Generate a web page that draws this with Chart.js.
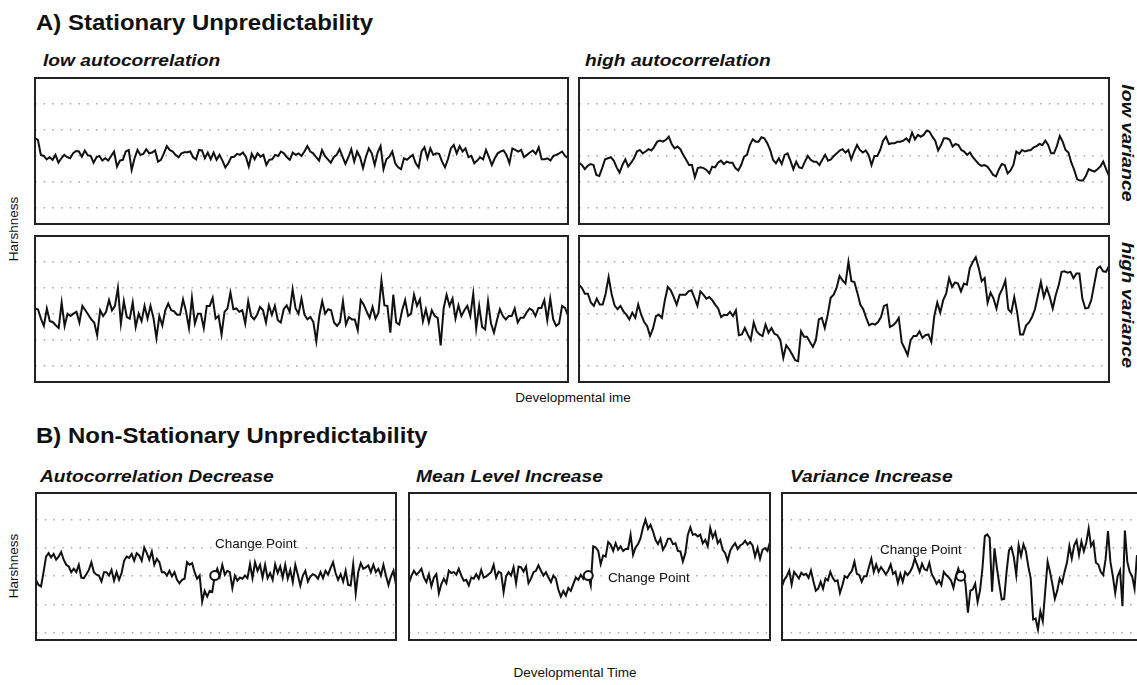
<!DOCTYPE html>
<html lang="en">
<head>
<meta charset="UTF-8">
<title>Stationary and Non-Stationary Unpredictability</title>
<style>
  html, body { margin: 0; padding: 0; background: #fff; overflow: hidden; }
  #fig { position: relative; width: 1137px; height: 685px; overflow: hidden;
         font-family: "Liberation Sans", Arial, Helvetica, sans-serif; color: #111; }
  .t { position: absolute; white-space: nowrap; line-height: 1; transform-origin: 0 0; }
  .ttl { font-size: 22px; font-weight: bold; transform: scaleX(1.09); }
  .sub { font-size: 17px; font-weight: bold; font-style: italic; transform: scaleX(1.13); }
  .side { font-size: 17px; font-weight: bold; font-style: italic; transform-origin: 50% 50%;
          transform: translate(-50%, -50%) rotate(90deg) scaleX(1.15); }
  .ylab { font-size: 13.5px; transform-origin: 50% 50%; transform: translate(-50%, -50%) rotate(-90deg); }
  .xlab { font-size: 13.5px; transform: translateX(-50%); }
  .cpt { font-size: 13.5px; }
  canvas { position: absolute; }
</style>
</head>
<body>
<div id="fig">
  <div class="t ttl" style="left:36px; top:12px">A) Stationary Unpredictability</div>
  <div class="t sub" style="left:43px; top:52px">low autocorrelation</div>
  <div class="t sub" style="left:585px; top:52px">high autocorrelation</div>
  <div class="t side" style="left:1127px; top:143px">low variance</div>
  <div class="t side" style="left:1127px; top:305px">high variance</div>
  <div class="t ylab" style="left:14px; top:229px">Harshness</div>
  <div class="t xlab" style="left:573px; top:391px">Developmental ime</div>

  <div class="t ttl" style="left:36px; top:425px">B) Non-Stationary Unpredictability</div>
  <div class="t sub" style="left:40px; top:468px">Autocorrelation Decrease</div>
  <div class="t sub" style="left:416px; top:468px">Mean Level Increase</div>
  <div class="t sub" style="left:790px; top:468px">Variance Increase</div>
  <div class="t ylab" style="left:14px; top:566px">Harshness</div>
  <div class="t xlab" style="left:575px; top:666px">Developmental Time</div>

  <canvas id="a1" width="537" height="150" style="left:33px; top:76px"></canvas>
  <canvas id="a2" width="534" height="150" style="left:577px; top:76px"></canvas>
  <canvas id="a3" width="537" height="150" style="left:33px; top:234px"></canvas>
  <canvas id="a4" width="534" height="150" style="left:577px; top:234px"></canvas>
  <canvas id="b1" width="364" height="151" style="left:34px; top:491px"></canvas>
  <canvas id="b2" width="365" height="151" style="left:407px; top:491px"></canvas>
  <canvas id="b3" width="365" height="151" style="left:780px; top:491px"></canvas>

  <div class="t cpt" style="left:215px; top:537px">Change Point</div>
  <div class="t cpt" style="left:608px; top:571px">Change Point</div>
  <div class="t cpt" style="left:880px; top:543px">Change Point</div>
</div>

<script src="https://cdn.jsdelivr.net/npm/chart.js"></script>
<script>
  // dotted reference lines (same in every panel)
  const gridVals = [-2, -1, 0, 1, 2];

  // A) stationary series
  const lowAutoLowVar = [
    0.68, 0.62, 0.04, 0, -0.13, -0.05, -0.15, 0.04, -0.26, -0.09,
    0.04, -0.05, -0.09, 0.10, 0.19, 0.17, -0.03, 0.21, 0.03, 0,
    -0.26, -0.05, 0, -0.18, -0.09, -0.18, 0, 0.17, -0.41, -0.18,
    -0.15, 0.17, 0.23, -0.54, -0.09, 0.23, 0.04, 0.08, 0.26, 0.10,
    0.13, 0.21, -0.22, -0.15, 0.10, 0.38, 0.23, 0.17, 0.04, -0.05, 0.10,
    0.14, 0.14, 0.17, -0.05, -0.13, 0.23, 0.21, -0.09, 0.13, -0.13,
    0.13, -0.15, 0.04, -0.18, -0.44, -0.28, -0.05, -0.03, 0.08, 0.04,
    0.13, -0.03, -0.41, 0.08, -0.13, 0.10, -0.03, 0.04, -0.35, -0.15,
    -0.13, 0.04, 0, 0.17, 0.10, -0.05, -0.15, 0.13, 0.04, 0.10,
    0, 0.17,
    0.38, 0.17, 0.10, -0.05, -0.18, 0.23, 0, -0.13, -0.26, -0.05,
    0.04, 0.26, -0.03, -0.31, -0.05, 0.26, -0.22, 0.17, -0.05, -0.47,
    -0.03, 0.29, 0.10, -0.35, 0.13, 0.38, -0.51, -0.13, -0.03, 0.17,
    -0.28, -0.44, -0.51, -0.09, -0.15, -0.05, 0.04, -0.28, -0.44, 0.17,
    0.33, -0.09, 0.29, 0.04, 0.10, 0.08, -0.22, -0.44, -0.13, 0.29,
    0.42, 0.10, 0.38, 0.17, 0.29, -0.05, 0, -0.28, -0.18, -0.05,
    -0.13, 0.23, -0.05, -0.35, -0.09, 0.10, 0.17, 0.21, 0.04, -0.28,
    0.29, 0.23, 0.17, 0.23, -0.05, 0.04, 0.13, 0.21, 0.08, 0.33,
    -0.13, -0.13, -0.09, -0.18, 0, 0.04, 0.10, 0.17, 0, -0.09
  ];
  const highAutoLowVar = [
    -0.26, -0.35, -0.51, -0.38, -0.31, -0.35, -0.73, -0.77, -0.47, -0.13,
    -0.09, -0.05, -0.18, -0.44, -0.64, -0.35, -0.13, -0.41, -0.26, -0.09,
    0.17, 0.23, 0.10, 0.17, 0.26, 0.21, 0.36, 0.55, 0.59, 0.55,
    0.62, 0.74, 0.46, 0.29, 0.36, 0.26, 0.04, -0.15, -0.35, -0.35,
    -0.82, -0.47, -0.44, -0.47, -0.54, -0.67, -0.41, -0.44, -0.26, -0.18,
    -0.31, -0.22, -0.26, -0.26, -0.47, -0.56, -0.35, -0.03, 0.04, 0.42,
    0.64, 0.55, 0.55, 0.72, 0.68, 0.49, 0.23, -0.15, -0.28, -0.09,
    -0.31, 0.04, 0.10, -0.18, -0.51, -0.22, -0.44, -0.47, -0.22, 0,
    -0.15, -0.22, -0.22, -0.35, -0.15, 0.04, -0.18, -0.13, 0,
    0.10, 0.21, 0.26, 0.13, 0.23, -0.13, 0.17, 0.42, 0.23, 0.13,
    0.21, 0.04, -0.35, 0, 0, 0.23, 0.59, 0.74, 0.46, 0.49,
    0.49, 0.55, 0.55, 0.59, 0.68, 0.55, 0.90, 0.64, 0.81, 0.74,
    0.81, 0.97, 0.94, 0.74, 0.59, 0.21, 0.42, 0.68, 0.68, 0.62,
    0.36, 0.46, 0.42, 0.23, 0.17, 0.04, 0.13, -0.05, -0.18, -0.31,
    -0.38, -0.35, -0.41, -0.56, -0.73, -0.79, -0.51, -0.31, -0.35, -0.67,
    -0.56, -0.35, 0.17, 0.08, 0.23, 0.17, 0.21, 0.23, 0.33, 0.38,
    0.46, 0.42, 0.59, 0.42, 0.10, 0.10, 0.38, 0.77, 0.55, 0.23,
    0.13, -0.26, -0.54, -0.90, -0.95, -0.95, -0.77, -0.51, -0.56, -0.60,
    -0.51, -0.41, -0.22, -0.51, -0.77
  ];
  const lowAutoHighVar = [
    0.21, 0.18, -0.18, -0.46, 0.21, -0.28, -0.31, -0.44, -0.54, 0.44,
    -0.46, 0.01, -0.08, 0.01, 0.08, -0.33, 0.31, 0.14, -0.03, -0.21,
    -0.33, -0.82, 0.14, -0.08, 0.08, 0.53, 0.14, 0.31, 1.00, -0.37,
    0.49, -0.12, -0.18, 0.44, -0.50, 0.01, -0.28, 0.31, -0.18, 0.31,
    -0.15, -0.92, -0.08, -0.44, 0.14, 0.40, 0.14, 0.10, -0.03, -0.03,
    0.56, 0.10, -0.54, 0.62, -0.37, 0.01, 0.01, -0.54, 0.31, 0.31,
    0.62, -0.18, -0.08, -0.79, 0.08, 0.21, 0.82, 0.18, 0.21, 0.08,
    0.14, -0.37, 0.49, -0.08, -0.21, -0.03, 0.27, 0.14, -0.33, 0.33,
    -0.03, 0.31, -0.24, -0.33, 0.18, 0.33, 0.08, 0.95, 0.21, 0.01,
    0.59, -0.03,
    -0.21, -0.12, -0.31, -1.05, -0.08, 0.49, 0.01, 0.18, 0.14, -0.33,
    -0.46, -0.31, 0.49, -0.41, -0.12, -0.21, -0.21, -0.63, 0.53, 0.36,
    0.10, -0.15, 0.27, -0.18, 0.05, 1.29, 0.33, 0.31, -0.72, 0.74,
    -0.33, -0.41, 0.14, 0.53, -0.08, 0.01, 0.74, 0.31, 0.56, -0.28,
    0.18, -0.33, 0.14, -0.08, -0.15, -1.21, 0.21, 0.74, 0.31, 0.59,
    -0.18, 0.33, -0.08, 0.14, 0.31, -0.08, 0.78, -0.56, 0.31, -0.50,
    -0.59, 0.49, -0.37, -0.72, -0.24, 0.18, -0.08, -0.21, -0.08, -0.08,
    0.21, -0.33, -0.15, -0.15, 0.05, 0.21, 0.14, -0.08, 0.23, 0.23,
    0.53, -0.24, 0.59, -0.21, -0.46, -0.37, 0.31, 0.23, -0.05
  ];
  const highAutoHighVar = [
    1.13, 1.00, 0.78, 0.78, 0.44, 0.31, 0.59, 0.36, 0.36, 0.78,
    1.42, 0.78, 0.33, 0.18, 0.31, 0.10, -0.03, -0.21, 0.05, -0.15,
    0.36, -0.03, -0.31, -0.46, -0.85, -0.56, -0.08, -0.03, -0.15, 0.53,
    1.04, 0.91, 0.65, 0.36, 0.74, 0.74, 0.74, 0.87, 0.91, 0.62,
    0.31, 0.87, 0.74, 0.59, 0.65, 0.53, 0.36, 0.21, -0.12, -0.03,
    -0.05, 0.08, -0.08, 0.14, -0.82, -0.79, -0.54, -0.79, -1.01, -0.33,
    -0.67, -0.79, -0.85, -0.41, -0.72, -0.54, -0.76, -0.82, -1.01, -1.69,
    -1.21, -1.36, -1.56, -1.78, -1.82, -0.67, -0.88, -0.88, -1.08, -1.27,
    -1.01, -0.21, -0.15, -0.54, -0.03, 0.62, 0.74, 1.00, 1.46, 1.29,
    1.17, 2.00, 1.26, 1.23, 0.82, 0.36, 0.18, -0.15, -0.44, -0.37,
    -0.41, -0.31, -0.12, 0.31, 0.36, -0.50, -0.44, -0.33, -0.15, -1.10,
    -1.33, -1.59, -1.01, -0.85, -0.85, -0.67, -0.92, -0.82, -0.79, -1.08,
    -0.08, 0.44, 0.05, 0.53, 0.78, 1.38, 1.04, 1.21, 1.17, 0.87,
    1.17, 1.13, 1.77, 2.00, 2.18, 1.77, 1.26, 1.38, 0.44, 0.82,
    0.59, 0.21, 0.74, 0.97, 1.29, 0.18, 0.05, 0.65, 0.05, -0.79,
    -0.79, -0.44, -0.33, -0.12, 0.18, 0.72, 1.23, 0.65, 1.00, 0.65,
    0.21, 0.72, 1.10, 1.62, 1.64, 1.59, 1.62, 1.38, 1.56, 1.56,
    0.59, 0.21, 0.23, 0.53, 1.13, 1.74, 1.83, 1.64, 1.62, 1.85
  ];

  // B) non-stationary series
  const acDecrease = [
    -0.13, -0.31, -0.36, 0.14, 0.69, 0.81, 0.66, 0.78, 0.58, 0.69,
    0.85, 0.58, 0.40, 0.34, 0.14, 0.26, 0.14, 0.40, -0.05, -0.07,
    0.07, 0.22, 0.49, 0.14, 0.05, 0.02, -0.19, 0.14, 0.14, 0.02,
    0.22, -0.16, 0.14, -0.13, 0.11, 0.54, 0.69, 0.64, 0.78, 0.54,
    0.81, 0.73, 0.54, 1.01, 0.81, 0.58, 0.87, 0.40, 0.61, 0.49,
    0.14, 0.14, 0.02, 0.19, -0.01, 0.14, -0.13, -0.25, -0.13, -0.09,
    0.49, 0.40, 0.46, 0.14, -0.09, 0.02, -0.89, -0.52, -0.72, -0.52,
    -0.56, 0.02, 0.26, -0.01, 0.40, 0.05, 0.19, 0.14, -0.42, 0.02,
    -0.16, -0.05, -0.09, 0.02, -0.07, 0.42, -0.07, 0.49, 0.19, 0.40,
    -0.05, 0.40, -0.07, 0.11, -0.13, 0.42, 0.11, 0.34, -0.05, 0.40,
    -0.09, 0.22, -0.21, 0.40, 0.05, -0.33, 0.02, 0.19, -0.19, -0.01,
    0.07, 0.02, -0.09, 0.14, -0.07, 0.19, 0.05, 0.28, 0.49, 0.11,
    -0.13, 0.07, -0.19, 0.19, -0.31, -0.33, 0.42, -0.60, 0.14, 0.46,
    0.26, 0.31, 0.38, 0.14, 0.40, 0.14, 0.26, 0.02, 0.40, 0.02,
    -0.31, -0.01, 0.19, -0.31
  ];
  const meanIncrease = [
    -0.25, 0.02, 0.19, 0.05, 0.14, 0.26, -0.05, -0.21, 0.07, -0.36,
    -0.05, 0.07, -0.60, -0.28, -0.09, -0.25, 0.19, 0.11, 0.14, 0.05,
    0.26, 0.02, -0.16, -0.13, -0.33, -0.05, -0.09, 0.07, -0.09, 0.22,
    -0.05, -0.01, 0.07, 0.14, 0.40, -0.05, 0.16, 0.11, -0.56, -0.01,
    0.14, 0.02, 0.31, -0.25, 0.34, 0.31, 0.16, 0.34, -0.25, -0.09,
    0.14, 0.19, 0.38, 0.19, 0.02, 0.14, -0.05, -0.21, 0.02, -0.09,
    -0.48, -0.72, -0.52, -0.68, -0.42, -0.52, -0.28, -0.05, -0.13, 0.05,
    -0.09, 0.07, 0.02, -0.33, 1.05, 1.01, 0.89, 0.42, 0.73, 0.69,
    1.20, 1.11, 0.89, 1.16, 0.93, 1.05, 0.89, 0.96, 0.96, 1.46,
    0.75, 1.01, 1.13, 1.34, 1.72, 1.99, 1.67, 1.81, 1.58, 1.28,
    1.13, 1.32, 0.93, 1.08, 1.32, 1.32, 1.13, 1.16, 0.89, 0.87,
    0.52, 0.81, 1.46, 1.72, 1.46, 1.48, 1.40, 1.46, 1.16, 1.28,
    1.05, 1.69, 1.36, 1.55, 1.16, 1.28, 0.93, 0.81, 0.54, 0.89,
    1.05, 1.16, 0.96, 1.08, 1.13, 1.25, 1.11, 1.20, 1.08, 0.69,
    0.99, 0.61, 0.93, 0.99, 0.89, 1.20
  ];
  const varIncrease = [
    -0.35, -0.12, 0, 0.20, -0.29, 0.15, 0.04, -0.08, 0.12, 0.04,
    0.08, -0.06, 0.20, -0.18, -0.51, -0.44, -0.20, -0.44, -0.08, -0.15,
    0.15, -0.06, -0.18, -0.15, -0.59, -0.32, 0, -0.06, 0.08, 0.20,
    0.51, 0.08, 0.04, -0.20, 0, 0, 0.32, 0.62, 0.15, 0.41,
    0.15, 0.32, 0.20, 0.06, 0.20, 0.41, 0.08, 0.15, -0.24, 0.08,
    -0.20, 0.15, 0.04, 0.15, 0.32, 0.62, 0.39, 0.15, 0.44, 0.24,
    0.20, 0.47, 0.08, -0.08, -0.27, -0.15, -0.32, 0.15, 0.04, -0.04,
    -0.15, -0.41, 0, 0.27, 0, 0.15, -0.29, -1.29, -0.51, -0.47,
    -0.27, -0.91, -0.51, 0.27, 1.41, 1.47, 1.35, -0.55, 0.98, 0.29,
    -0.29, -0.82, -0.80, 0.15, 0.91, 1.02, 0.67, 0.04, 1.09, 0.71,
    1.12, 0.88, 0.35, -0.08, -1.53, -1.49, -1.88, -1.24, -1.59, -0.53,
    0.51, 0.15, -0.29, -0.80, -0.51, -0.08, -0.24, 0.15, 0.47, 1.06,
    0.62, 1.09, 1.26, 0.74, 1.22, 0.88, 1.18, 1.68, 1.06, 1.21,
    0.47, 0.41, 0.15, 0.04, 0.59, 1.59, 0.51, 0, -0.59, 0,
    0.20, -1.06, 1.61, 0.51, 0.15, 0, -0.44, 0.74
  ];

  // index of the change point in each B series
  const cpAc = 71, cpMean = 72, cpVar = 74;

  const frame = {
    id: 'frame',
    afterDraw(chart) {
      const { ctx, chartArea: a } = chart;
      ctx.save();
      ctx.strokeStyle = '#222';
      ctx.lineWidth = 2;
      ctx.strokeRect(a.left, a.top, a.right - a.left, a.bottom - a.top);
      ctx.restore();
    }
  };

  function panel(id, vals, yMin, yMax, xMax, cp) {
    const sets = [{
      data: vals.map((v, i) => ({ x: i, y: v })),
      borderColor: '#111', borderWidth: 2, pointRadius: 0, tension: 0, order: 1
    }];
    if (cp !== undefined) {
      sets.push({
        type: 'scatter',
        data: [{ x: cp, y: vals[cp] }],
        pointRadius: 4.5, pointBorderWidth: 2,
        pointBackgroundColor: '#fff', pointBorderColor: '#111', order: 0
      });
    }
    new Chart(document.getElementById(id), {
      type: 'line',
      data: { datasets: sets },
      options: {
        responsive: false,
        animation: false,
        events: [],
        layout: { padding: 2, autoPadding: false },
        plugins: { legend: { display: false }, tooltip: { enabled: false } },
        scales: {
          x: { type: 'linear', display: false, min: 0, max: xMax },
          y: {
            min: yMin, max: yMax,
            afterBuildTicks: s => { s.ticks = gridVals.map(v => ({ value: v })); },
            ticks: { display: false },
            grid: { color: '#a8a8a8', lineWidth: 1.5, drawTicks: false },
            border: { display: false, dash: [1.5, 7.2] }
          }
        }
      },
      plugins: [frame]
    });
  }

  panel('a1', lowAutoLowVar, -2.62, 3.0, lowAutoLowVar.length - 1);
  panel('a2', highAutoLowVar, -2.62, 3.0, highAutoLowVar.length - 1);
  panel('a3', lowAutoHighVar, -2.62, 3.0, lowAutoHighVar.length - 1);
  panel('a4', highAutoHighVar, -2.62, 3.0, highAutoHighVar.length - 1);
  panel('b1', acDecrease, -2.25, 2.93, acDecrease.length - 1, cpAc);
  panel('b2', meanIncrease, -2.25, 2.93, meanIncrease.length - 1, cpMean);
  // the last panel runs past the right edge of the figure
  panel('b3', varIncrease, -2.25, 2.93, 149.5, cpVar);
</script>
</body>
</html>
